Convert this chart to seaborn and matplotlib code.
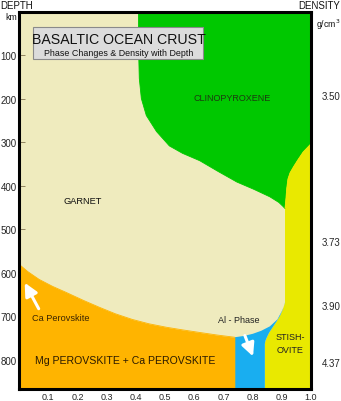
import numpy as np
import pandas as pd
import matplotlib
matplotlib.use("Agg")
import matplotlib.pyplot as plt
from matplotlib.patches import Rectangle
import seaborn as sns

# ---------------- data ----------------
DEPTH_MAX = 867
X_MAX = 1.0

# garnet / clinopyroxene boundary (top -> bottom)
cpx_x = [0.409, 0.410, 0.412, 0.419, 0.436, 0.471, 0.515, 0.560, 0.619, 0.680, 0.746, 0.805, 0.859, 0.890, 0.904, 0.911]
cpx_d = [0, 100, 153, 199, 238, 275, 308, 325, 342, 366, 391, 408, 425, 438, 447, 452]

# clinopyroxene / stishovite boundary (top-right -> bottom)
stv_x = [1.000, 0.990, 0.973, 0.955, 0.940, 0.928, 0.921, 0.917, 0.914, 0.911]
stv_d = [303, 310, 322, 340, 356, 370, 384, 405, 430, 452]

# garnet bottom against Al-phase (right -> left)
gt_bot_x = [0.911, 0.906, 0.900, 0.885, 0.859, 0.830, 0.801, 0.770, 0.739]
gt_bot_d = [668, 679, 688, 707, 723, 733, 740, 745, 748]

# Al-phase / stishovite boundary (top -> bottom)
al_x = [0.911, 0.903, 0.893, 0.880, 0.869, 0.857, 0.849, 0.844, 0.842]
al_d = [669, 685, 700, 714, 725, 737, 748, 756, 763]

# garnet / perovskite boundary (left -> right)
pv_x = [0.000, 0.030, 0.069, 0.115, 0.162, 0.220, 0.275, 0.330, 0.388, 0.445, 0.505, 0.560, 0.619, 0.680, 0.739]
pv_d = [580, 597, 615, 631, 645, 663, 679, 694, 707, 717, 725, 731, 737, 743, 748]

depth_ticks = [100, 200, 300, 400, 500, 600, 700, 800]
frac_ticks = [0.1, 0.2, 0.3, 0.4, 0.5, 0.6, 0.7, 0.8, 0.9, 1.0]
density_labels = ["3.50", "3.73", "3.90", "4.37"]
density_depths = [192, 526, 673, 805]

C_GARNET = "#EFEBBE"
C_CPX = "#00C800"
C_STV = "#E9E900"
C_PV = "#FFB400"
C_AL = "#19AEF0"

# ---------------- figure ----------------
sns.set_theme(style="white")
plt.rcParams['font.family'] = ['Liberation Sans', 'DejaVu Sans']

fig = plt.figure(figsize=(3.41, 4.02), dpi=100)
ax = fig.add_axes([19/341, 1-390/402, 292/341, 377/402])
ax.set_xlim(0, X_MAX)
ax.set_ylim(DEPTH_MAX, 0)
ax.set_facecolor(C_GARNET)

# clinopyroxene
gx = cpx_x + stv_x[::-1] + [X_MAX]
gy = cpx_d + stv_d[::-1] + [0]
ax.fill(gx, gy, color=C_CPX, lw=0)

# stishovite
sx = stv_x + [0.911] + al_x + [al_x[-1], X_MAX]
sy = stv_d + [668] + al_d + [DEPTH_MAX, DEPTH_MAX]
ax.fill(sx, sy, color=C_STV, lw=0)

# Al-phase
bx = gt_bot_x[::-1] + al_x + [al_x[-1], gt_bot_x[-1]]
by = gt_bot_d[::-1] + al_d + [DEPTH_MAX, DEPTH_MAX]
ax.fill(bx, by, color=C_AL, lw=0)

# perovskite
ax.fill_between(pv_x, pv_d, DEPTH_MAX, color=C_PV, lw=0)

# soft boundary lines via seaborn
sns.lineplot(x=pv_x, y=pv_d, sort=False, estimator=None, color=C_PV, lw=0.6, ax=ax)
sns.lineplot(x=cpx_x, y=cpx_d, sort=False, estimator=None, color=C_CPX, lw=0.6, ax=ax)
sns.lineplot(x=stv_x, y=stv_d, sort=False, estimator=None, color=C_STV, lw=0.6, ax=ax)
ax.set_xlim(0, X_MAX)
ax.set_ylim(DEPTH_MAX, 0)

# axes styling
for s in ax.spines.values():
    s.set_visible(True)
    s.set_color("black")
    s.set_linewidth(2.2)
ax.set_xticks(frac_ticks)
ax.set_xticklabels([f"{v:.1f}" for v in frac_ticks])
ax.set_yticks(depth_ticks)
ax.set_yticklabels([str(v) for v in depth_ticks])
ax.tick_params(axis="x", direction="in", length=6, width=0.5, color="#6a5a3a",
               labelsize=6.5, pad=2, bottom=True)
ax.tick_params(axis="y", direction="in", length=4, width=0.5, color="#6a5a3a",
               labelsize=7, pad=1.5, left=True)
ax.set_xlabel("")
ax.set_ylabel("")

ax2 = ax.twinx()
ax2.set_ylim(DEPTH_MAX, 0)
ax2.set_yticks(density_depths)
ax2.set_yticklabels(density_labels)
ax2.tick_params(axis="y", length=0, labelsize=7, pad=8, right=True)
for s in ax2.spines.values():
    s.set_visible(False)
ax2.grid(False)
ax.grid(False)

# region labels
ax.text(0.729, 197, "CLINOPYROXENE", fontsize=6.5, color="#1c3a10", ha="center", va="center")
ax.text(0.219, 434, "GARNET", fontsize=6.7, color="#111111", ha="center", va="center")
ax.text(0.144, 703, "Ca Perovskite", fontsize=6.6, color="#3a2400", ha="center", va="center")
ax.text(0.363, 800, "Mg PEROVSKITE + Ca PEROVSKITE", fontsize=7.6, color="#2a1a00",
        ha="center", va="center")
ax.text(0.752, 708, "Al - Phase", fontsize=6.5, color="#222222", ha="center", va="center")
ax.text(0.93, 747, "STISH-", fontsize=6.5, color="#222222", ha="center", va="center")
ax.text(0.93, 777, "OVITE", fontsize=6.5, color="#222222", ha="center", va="center")

# arrows
ax.annotate("", xy=(0.015, 617), xytext=(0.072, 688),
            arrowprops=dict(arrowstyle="-|>,head_length=0.65,head_width=0.32", color="white", lw=2.2))
ax.annotate("", xy=(0.805, 798), xytext=(0.770, 738),
            arrowprops=dict(arrowstyle="-|>,head_length=0.65,head_width=0.32", color="white", lw=2.2))

# title box
fig.patches.append(Rectangle((33/341, 1-60/402), 170/341, 32/402, transform=fig.transFigure,
                             facecolor="#DCDCDC", edgecolor="#8a8a8a", lw=0.8, zorder=5))
fig.text(119/341, 1-40/402, "BASALTIC OCEAN CRUST", fontsize=10.2, color="#111111",
         ha="center", va="center", zorder=6)
fig.text(119/341, 1-53/402, "Phase Changes & Density with Depth", fontsize=6.4, color="#111111",
         ha="center", va="center", zorder=6)

# header labels
fig.text(0.0, 1-6/402, "DEPTH", fontsize=7, color="#111111", ha="left", va="center")
fig.text(17/341, 1-17/402, "km", fontsize=6.3, color="#111111", ha="right", va="center")
fig.text(340/341, 1-6/402, "DENSITY", fontsize=7, color="#111111", ha="right", va="center")
fig.text(340/341, 1-25/402, "g/cm$^3$", fontsize=6.3, color="#111111", ha="right", va="center")

fig.savefig("out.png", dpi=100)
